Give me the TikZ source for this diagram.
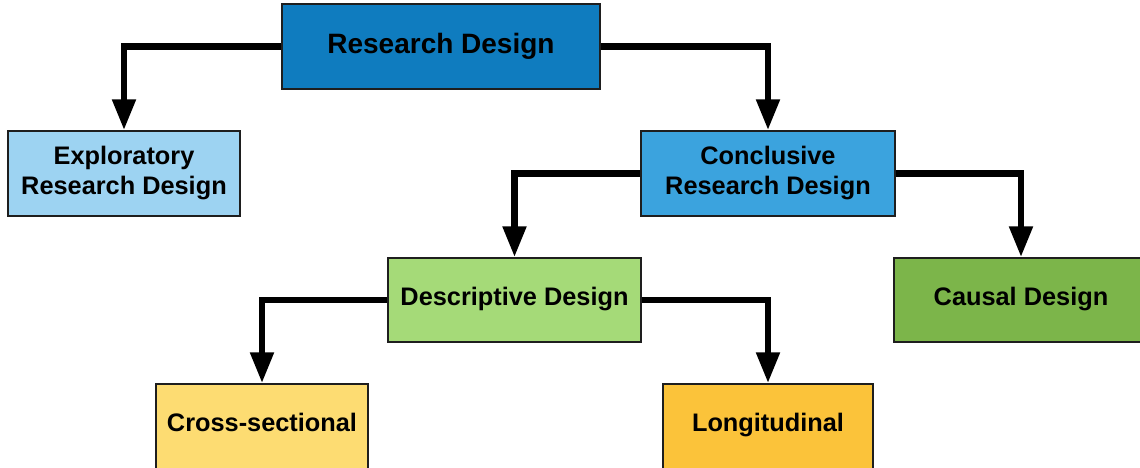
\documentclass[tikz,border=0pt]{standalone}
\usepackage{fontspec}
\setmainfont{Liberation Sans}
\usetikzlibrary{arrows.meta}
\definecolor{cRD}{HTML}{0F7CBF}
\definecolor{cEX}{HTML}{9DD3F2}
\definecolor{cCO}{HTML}{3BA3DE}
\definecolor{cDE}{HTML}{A5DA78}
\definecolor{cCA}{HTML}{7CB54A}
\definecolor{cCS}{HTML}{FDDC72}
\definecolor{cLO}{HTML}{FBC33A}
\definecolor{edge}{HTML}{1E1E1E}
\tikzset{
  box/.style={draw=edge, line width=1.5pt, inner sep=0pt, align=center,
    minimum height=63.75pt, font=\bfseries\fontsize{19}{22.5}\selectfont},
  oneline/.style={text height=13pt, text depth=5pt},
  link/.style={line width=4.6pt, -{Triangle[width=17pt,length=23pt]}}
}
\begin{document}
\begin{tikzpicture}[x=0.75pt, y=-0.75pt]
\clip (0,0) rectangle (1140,468);
\fill[white] (0,0) rectangle (1140,468);

\node[box, fill=cRD, minimum width=238.5pt, font=\bfseries\fontsize{21}{25}\selectfont,
      text height=14.5pt, text depth=4.5pt] (rd) at (441,46.5) {Research Design};
\node[box, fill=cEX, minimum width=174pt] (ex) at (124,173.5) {Exploratory\\Research Design};
\node[box, fill=cCO, minimum width=190.5pt] (co) at (768,173.5) {Conclusive\\Research Design};
\node[box, oneline, fill=cDE, minimum width=189.75pt, minimum height=63pt] (de) at (514.5,300) {Descriptive Design};
\node[box, oneline, fill=cCA, minimum width=190.5pt, minimum height=63pt] (ca) at (1021,300) {Causal Design};
\node[box, oneline, fill=cCS, minimum width=159pt] (cs) at (262,426.5) {Cross-sectional};
\node[box, oneline, fill=cLO, minimum width=157.5pt] (lo) at (768,426.5) {Longitudinal};

\draw[link] (rd.west) -| (ex.north);
\draw[link] (rd.east) -| (co.north);
\draw[link] (co.west) -| (de.north);
\draw[link] (co.east) -| (ca.north);
\draw[link] (de.west) -| (cs.north);
\draw[link] (de.east) -| (lo.north);
\end{tikzpicture}
\end{document}
